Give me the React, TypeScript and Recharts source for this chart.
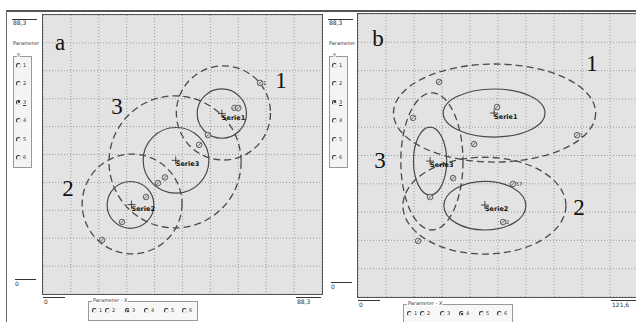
import React from "react";
import { ScatterChart, Scatter, XAxis, YAxis, CartesianGrid } from "recharts";

// panel a: Parameter Y = 3, Parameter X = 3, both axes 0 .. 88,3
const aXMax = 88.3;
const aYMax = 88.3;
const aXTicks = [0, 8.83, 17.66, 26.49, 35.32, 44.15, 52.98, 61.81, 70.64, 79.47, 88.3];
const aYTicks = [0, 8.83, 17.66, 26.49, 35.32, 44.15, 52.98, 61.81, 70.64, 79.47, 88.3];
const aCenters = [
  { x: 56.6, y: 57.1, name: "Serie1" },
  { x: 28.0, y: 28.3, name: "Serie2" },
  { x: 42.0, y: 42.3, name: "Serie3" },
];
const aEllipses = [
  { x: 56.6, y: 57.1, rx: 7.8, ry: 7.8, dashed: false },
  { x: 57.1, y: 57.3, rx: 14.9, ry: 14.9, dashed: true },
  { x: 27.7, y: 28.2, rx: 7.4, ry: 7.4, dashed: false },
  { x: 28.2, y: 28.5, rx: 15.8, ry: 15.8, dashed: true },
  { x: 42.1, y: 42.3, rx: 10.4, ry: 10.4, dashed: false },
  { x: 41.8, y: 41.8, rx: 20.9, ry: 20.9, dashed: true },
];
const aPoints = [
  { x: 68.7, y: 66.8, tag: "1" },
  { x: 60.6, y: 58.9, tag: "" },
  { x: 61.8, y: 58.9, tag: "" },
  { x: 52.2, y: 50.3, tag: "" },
  { x: 49.4, y: 47.2, tag: "" },
  { x: 38.6, y: 36.9, tag: "" },
  { x: 36.4, y: 35.1, tag: "" },
  { x: 32.6, y: 30.7, tag: "" },
  { x: 25.0, y: 22.8, tag: "" },
  { x: 18.7, y: 17.1, tag: "" },
];
const aTags = [
  { x: 5.4, y: 79.7, text: "a" },
  { x: 75.3, y: 67.7, text: "1" },
  { x: 23.4, y: 59.2, text: "3" },
  { x: 7.9, y: 33.5, text: "2" },
];

// panel b: Parameter Y = 3, Parameter X = 4, x 0 .. 121,6, y 0 .. 88,3
const bXMax = 121.6;
const bYMax = 88.3;
const bXTicks = [0, 12.16, 24.32, 36.48, 48.64, 60.8, 72.96, 85.12, 97.28, 109.44, 121.6];
const bYTicks = [0, 8.83, 17.66, 26.49, 35.32, 44.15, 52.98, 61.81, 70.64, 79.47, 88.3];
const bCenters = [
  { x: 59.1, y: 57.4, name: "Serie1" },
  { x: 55.1, y: 28.7, name: "Serie2" },
  { x: 31.3, y: 42.4, name: "Serie3" },
];
const bEllipses = [
  { x: 59.1, y: 57.4, rx: 22.1, ry: 7.5, dashed: false },
  { x: 59.3, y: 57.4, rx: 43.9, ry: 15.3, dashed: true },
  { x: 55.1, y: 28.5, rx: 17.8, ry: 7.6, dashed: false },
  { x: 54.9, y: 28.5, rx: 35.4, ry: 15.1, dashed: true },
  { x: 31.3, y: 42.4, rx: 7.2, ry: 10.6, dashed: false },
  { x: 32.1, y: 42.3, rx: 13.5, ry: 21.4, dashed: true },
];
const bPoints = [
  { x: 35.2, y: 67.1, tag: "" },
  { x: 23.9, y: 55.9, tag: "" },
  { x: 60.4, y: 59.3, tag: "" },
  { x: 95.1, y: 50.5, tag: "1" },
  { x: 50.4, y: 47.7, tag: "" },
  { x: 41.3, y: 37.1, tag: "" },
  { x: 31.3, y: 31.2, tag: "" },
  { x: 67.3, y: 35.3, tag: "57" },
  { x: 63.0, y: 23.4, tag: "2" },
  { x: 26.1, y: 17.5, tag: "" },
];
const bTags = [
  { x: 8.7, y: 80.8, text: "b" },
  { x: 101.6, y: 72.7, text: "1" },
  { x: 9.6, y: 42.7, text: "3" },
  { x: 96.0, y: 27.8, text: "2" },
];

const radioLabels = ["1", "2", "3", "4", "5", "6"];

const ink = "#4a4a4a";
const tiny: React.CSSProperties = {
  position: "absolute",
  fontFamily: "DejaVu Sans",
  fontSize: 6,
  lineHeight: 1,
  color: "#333",
  whiteSpace: "nowrap",
};

const ellipseShape = (kx: number, ky: number) => (props: any) => {
  const p = props.payload ?? props;
  return (
    <ellipse
      cx={props.cx}
      cy={props.cy}
      rx={p.rx * kx}
      ry={p.ry * ky}
      fill="none"
      stroke={ink}
      strokeWidth={p.dashed ? 1.3 : 1.2}
      strokeDasharray={p.dashed ? "7 4" : undefined}
    />
  );
};

const pointShape = (props: any) => {
  const p = props.payload ?? props;
  const { cx, cy } = props;
  return (
    <g>
      <circle cx={cx} cy={cy} r={2.8} fill="#d8d8d8" stroke="#555" strokeWidth={0.9} />
      <line x1={cx - 1.9} y1={cy + 1.9} x2={cx + 1.9} y2={cy - 1.9} stroke="#555" strokeWidth={0.8} />
      {p.tag ? (
        <text x={cx + 3} y={cy + 2} fontSize={5} fontFamily="DejaVu Sans" fill="#333">
          {p.tag}
        </text>
      ) : null}
    </g>
  );
};

const centerShape = (props: any) => {
  const p = props.payload ?? props;
  const { cx, cy } = props;
  return (
    <g>
      <line x1={cx - 4} y1={cy} x2={cx + 4} y2={cy} stroke="#222" strokeWidth={0.8} />
      <line x1={cx} y1={cy - 4} x2={cx} y2={cy + 4} stroke="#222" strokeWidth={0.8} />
      <text x={cx} y={cy + 6} fontSize={6.5} fontWeight="bold" fontFamily="DejaVu Sans" fill="#111">
        {p.name}
      </text>
    </g>
  );
};

const tagShape = (props: any) => {
  const p = props.payload ?? props;
  return (
    <text
      x={props.cx}
      y={props.cy}
      textAnchor="middle"
      dominantBaseline="central"
      fontSize={23}
      fontFamily="Liberation Serif"
      fill="#111"
    >
      {p.text}
    </text>
  );
};

const Radio = ({ x, y, on }: { x: number; y: number; on: boolean }) => (
  <div
    style={{
      position: "absolute",
      left: x,
      top: y,
      width: 5,
      height: 5,
      boxSizing: "border-box",
      borderRadius: "50%",
      border: "1px solid",
      borderColor: "#333 #ddd #ddd #333",
      background: "#fff",
    }}
  >
    {on ? (
      <div style={{ position: "absolute", left: 0.5, top: 0.5, width: 2, height: 2, borderRadius: "50%", background: "#111" }} />
    ) : null}
  </div>
);

type PanelProps = {
  frameX: number;
  plotX: number;
  plotY: number;
  plotW: number;
  plotH: number;
  xMax: number;
  yMax: number;
  xTicks: number[];
  yTicks: number[];
  xMaxLabel: string;
  yMaxLabel: string;
  selY: number;
  selX: number;
  ellipses: any[];
  points: any[];
  centers: any[];
  tags: any[];
};

const xRadioOffsets = [4, 17, 37, 56, 76, 94];

function Panel(props: PanelProps) {
  const { frameX, plotX, plotY, plotW, plotH, xMax, yMax } = props;
  const kx = plotW / xMax;
  const ky = plotH / yMax;
  const bottom = plotY + plotH;
  const col = frameX + 6;
  const boxX = plotX + 45;
  return (
    <>
      {/* left column */}
      <div style={{ position: "absolute", left: col, top: 19, width: 25, height: 0, borderTop: "1px solid #333" }} />
      <div style={{ ...tiny, left: col + 1, top: 20 }}>{props.yMaxLabel}</div>
      <div style={{ ...tiny, left: col + 1, top: 41, fontSize: 5 }}>Parameter</div>
      <div
        style={{
          position: "absolute",
          left: col + 1,
          top: 56,
          width: 19,
          height: 112,
          boxSizing: "border-box",
          border: "1px solid #999",
          background: "#f4f4f4",
        }}
      />
      <div style={{ ...tiny, left: col + 5, top: 53, fontSize: 5, background: "#fff" }}>Y</div>
      {radioLabels.map((r, i) => (
        <React.Fragment key={"y" + r}>
          <Radio x={col + 4} y={63 + i * 18.4} on={i === props.selY} />
          <div style={{ ...tiny, left: col + 11, top: 63 + i * 18.4, fontSize: 5, textDecoration: i === props.selY ? "underline" : "none" }}>{r}</div>
        </React.Fragment>
      ))}
      <div style={{ position: "absolute", left: col + 3, top: bottom - 15, width: 21, height: 0, borderTop: "1px solid #333" }} />
      <div style={{ ...tiny, left: col + 3, top: bottom - 13 }}>0</div>

      {/* plot */}
      <div
        style={{
          position: "absolute",
          left: plotX - 1,
          top: plotY - 1,
          width: plotW,
          height: plotH,
          border: "1px solid #555",
          background: "#e3e3e3",
        }}
      >
        <ScatterChart width={plotW} height={plotH} margin={{ top: 0, right: 0, bottom: 0, left: 0 }}>
          <XAxis type="number" dataKey="x" domain={[0, xMax]} ticks={props.xTicks} interval={0} hide allowDataOverflow />
          <YAxis type="number" dataKey="y" domain={[0, yMax]} ticks={props.yTicks} interval={0} hide allowDataOverflow />
          <CartesianGrid stroke="#9a9a9a" strokeDasharray="1 2" />
          <Scatter data={props.ellipses} shape={ellipseShape(kx, ky)} isAnimationActive={false} />
          <Scatter data={props.points} shape={pointShape} isAnimationActive={false} />
          <Scatter data={props.centers} shape={centerShape} isAnimationActive={false} />
          <Scatter data={props.tags} shape={tagShape} isAnimationActive={false} />
        </ScatterChart>
      </div>

      {/* bottom axis */}
      <div style={{ position: "absolute", left: plotX, top: bottom + 3, width: 22, height: 0, borderTop: "1px solid #333" }} />
      <div style={{ ...tiny, left: plotX + 1, top: bottom + 5 }}>0</div>
      <div style={{ position: "absolute", left: plotX + 253, top: bottom + 3, width: 25, height: 0, borderTop: "1px solid #333" }} />
      <div style={{ ...tiny, left: plotX + 254, top: bottom + 5 }}>{props.xMaxLabel}</div>
      <div
        style={{
          position: "absolute",
          left: boxX,
          top: bottom + 7,
          width: 110,
          height: 20,
          boxSizing: "border-box",
          border: "1px solid #999",
          background: "#f7f7f7",
        }}
      />
      <div style={{ ...tiny, left: boxX + 4, top: bottom + 4, fontSize: 5, background: "#fff", padding: "0 1px" }}>Parameter - X</div>
      {radioLabels.map((r, i) => (
        <React.Fragment key={"x" + r}>
          <Radio x={boxX + xRadioOffsets[i]} y={bottom + 14} on={i === props.selX} />
          <div style={{ ...tiny, left: boxX + xRadioOffsets[i] + 7, top: bottom + 14, fontSize: 5 }}>{r}</div>
        </React.Fragment>
      ))}
    </>
  );
}

export default function App() {
  return (
    <div
      style={{
        position: "absolute",
        left: 0,
        top: 0,
        width: 636,
        height: 322,
        overflow: "hidden",
        background: "#fff",
      }}
    >
      <div style={{ position: "absolute", left: 6, top: 10, width: 640, height: 0, borderTop: "2px solid #555" }} />
      <div style={{ position: "absolute", left: 6, top: 10, width: 0, height: 312, borderLeft: "1px solid #666" }} />
      <Panel
        frameX={6}
        plotX={43}
        plotY={15}
        plotW={279}
        plotH={279}
        xMax={aXMax}
        yMax={aYMax}
        xTicks={aXTicks}
        yTicks={aYTicks}
        xMaxLabel="88,3"
        yMaxLabel="88,3"
        selY={2}
        selX={2}
        ellipses={aEllipses}
        points={aPoints}
        centers={aCenters}
        tags={aTags}
      />
      <Panel
        frameX={322}
        plotX={358}
        plotY={14}
        plotW={280}
        plotH={283}
        xMax={bXMax}
        yMax={bYMax}
        xTicks={bXTicks}
        yTicks={bYTicks}
        xMaxLabel="121,6"
        yMaxLabel="88,3"
        selY={2}
        selX={3}
        ellipses={bEllipses}
        points={bPoints}
        centers={bCenters}
        tags={bTags}
      />
    </div>
  );
}
